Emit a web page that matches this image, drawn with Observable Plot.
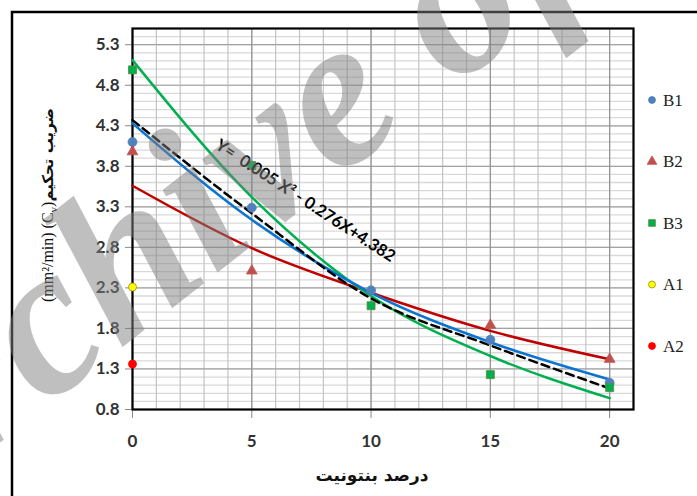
<!DOCTYPE html>
<html><head><meta charset="utf-8">
<script src="https://cdn.jsdelivr.net/npm/d3@7"></script>
<script src="https://cdn.jsdelivr.net/npm/@observablehq/plot@0.6"></script>
<style>body{margin:0;background:#fff;} svg{display:block}</style>
</head><body><div id="chart"></div>
<script>
// ---- data ----
const bentonite = [0, 5, 10, 15, 20];
const B1 = [4.10, 3.29, 2.27, 1.66, 1.13];
const B2 = [3.98, 2.51, NaN, 1.84, 1.42];
const B3 = [4.99, 3.81, 2.08, 1.23, 1.07];
const A1 = [2.31];
const A2 = [1.36];
const A_x = [0];
// trend lines (at the same x positions)
const fitB1 = [4.33, 3.14, 2.24, 1.63, 1.17];
const fitB2 = [3.56, 2.79, 2.24, 1.77, 1.42];
const fitB3 = [5.11, 3.42, 2.20, 1.46, 0.94];
const fitAll = [4.37, 3.22, 2.17, 1.59, 1.06];
const xTicks = [0, 5, 10, 15, 20];
const yTicks = [0.8, 1.3, 1.8, 2.3, 2.8, 3.3, 3.8, 4.3, 4.8, 5.3];
const seriesNames = ["B1", "B2", "B3", "A1", "A2"];
const equationLabel = "Y=\u00a0 0.005 X² - 0.276X+4.382";
const xTitle = "درصد بنتونیت";
const yTitleFa = "ضریب تحکیم";
const yTitleUnit = "(mm²/min) (C";
const watermark = "Archive of SID";

// ---- styles ----
const colors = {B1:"#4F81BD", B2:"#C0504D", B3:"#00B050", A1:"#FFFF00", A2:"#FF0000"};
const strokes = {B1:"#4F81BD", B2:"#C0504D", B3:"#5a8a3a", A1:"#9a9000", A2:"#FF0000"};
const symbols = {B1:"circle", B2:"triangle", B3:"square", A1:"circle", A2:"circle"};
const sizes = {B1:4.5, B2:4, B3:4.5, A1:4, A2:4};

const W = 697, H = 496;
const pts = (ys, xs, name) => xs.map((x, i) => ({x, y: ys[i], name})).filter(d => Number.isFinite(d.y));
const fit = ys => bentonite.map((x, i) => ({x, y: ys[i]}));
const yMinor = d3.range(8, 55).map(d => d / 10);
const xMinor = d3.range(0, 22);

const dotMark = (data, name) => Plot.dot(data, {x:"x", y:"y", symbol: symbols[name], r: sizes[name], fill: colors[name], stroke: strokes[name], strokeWidth: 0.8});

const plot = Plot.plot({
  width: W, height: H,
  marginLeft: 132, marginRight: 64, marginTop: 28, marginBottom: 87,
  style: {background: "white", fontFamily: "Lato, sans-serif", color: "#333"},
  x: {domain: [0, 21]},
  y: {domain: [0.8, 5.5]},
  marks: [
    Plot.ruleY(yMinor, {stroke: "#d9d9d9", strokeWidth: 1.3}),
    Plot.ruleX(xMinor, {stroke: "#c4c4c4", strokeWidth: 1.2}),
    Plot.ruleY(yTicks, {stroke: "#a3a3a3", strokeWidth: 1.2}),
    Plot.ruleX(xTicks, {stroke: "#939393", strokeWidth: 1.2}),
    Plot.axisX({ticks: xTicks, tickSize: 9, tickPadding: 16, fontSize: 17, fontWeight: "bold", label: null, tickFormat: d => String(d), stroke: "#888"}),
    Plot.axisY({ticks: yTicks, tickSize: 7, tickPadding: 6, fontSize: 17, fontWeight: "bold", label: null, tickFormat: d3.format(".1f"), stroke: "#888"}),
    Plot.frame({stroke: "black", strokeWidth: 2.2}),
    Plot.line(fit(fitB2), {x:"x", y:"y", stroke: "#C00000", strokeWidth: 2.5, curve: "monotone-x"}),
    Plot.line(fit(fitB3), {x:"x", y:"y", stroke: "#00B050", strokeWidth: 2.5, curve: "monotone-x"}),
    Plot.line(fit(fitB1), {x:"x", y:"y", stroke: "#0A74D0", strokeWidth: 2.5, curve: "monotone-x"}),
    Plot.line(fit(fitAll), {x:"x", y:"y", stroke: "black", strokeWidth: 2.5, strokeDasharray: "8,5", curve: "monotone-x"}),
    dotMark(pts(B1, bentonite, "B1"), "B1"),
    dotMark(pts(B2, bentonite, "B2"), "B2"),
    dotMark(pts(B3, bentonite, "B3"), "B3"),
    dotMark(pts(A1, A_x, "A1"), "A1"),
    dotMark(pts(A2, A_x, "A2"), "A2"),
    Plot.text([equationLabel], {
      x: (bentonite[1] + bentonite[2]) / 2,
      y: (fitAll[1] + fitAll[2]) / 2,
      text: d => d, rotate: 33, dx: -6, dy: -55,
      fontSize: 16.5, fontWeight: "bold", fill: "black", textAnchor: "middle"
    })
  ]
});

document.getElementById("chart").appendChild(plot);
const svg = d3.select(plot);

// outer chart border
svg.append("rect").attr("x", 12).attr("y", 12).attr("width", W).attr("height", H)
  .attr("fill", "none").attr("stroke", "black").attr("stroke-width", 2.5);

// legend
seriesNames.forEach((n, i) => {
  const cy = 100 + i * 61.5;
  const sym = n === "B2" ? d3.symbolTriangle : n === "B3" ? d3.symbolSquare : d3.symbolCircle;
  svg.append("path").attr("d", d3.symbol(sym, n === "B2" ? 40 : n === "B3" ? 45 : 38)())
    .attr("transform", `translate(652,${cy})`)
    .attr("fill", colors[n]).attr("stroke", strokes[n]).attr("stroke-width", 0.8);
  svg.append("text").attr("x", 663).attr("y", cy).attr("dy", "0.35em").attr("text-anchor", "start")
    .attr("font-family", "Liberation Serif, serif").attr("font-size", 17).attr("fill", "#222")
    .text(n);
});

// y axis title
const yt = svg.append("text").attr("transform", "translate(47,205) rotate(-90)")
  .attr("text-anchor", "middle").attr("dy", "0.35em").attr("font-size", 16).attr("fill", "#111");
yt.append("tspan").attr("font-family", "Liberation Serif, serif").text(yTitleUnit);
yt.append("tspan").attr("font-family", "Liberation Serif, serif").attr("font-size", 11).attr("dy", 4).text("v");
yt.append("tspan").attr("font-family", "Liberation Serif, serif").attr("dy", -4).text(")");
yt.append("tspan").attr("font-family", "DejaVu Sans, sans-serif").attr("font-weight", "bold").attr("font-size", 15).text(yTitleFa);

// x axis title
svg.append("text").attr("x", 372).attr("y", 481).attr("text-anchor", "middle")
  .attr("font-family", "DejaVu Sans, sans-serif").attr("font-weight", "bold").attr("font-size", 17).attr("fill", "#111")
  .text(xTitle);

// watermark
svg.append("text").attr("transform", "translate(-135,548) rotate(-38)").attr("text-anchor", "start")
  .attr("font-family", "Liberation Serif, serif").attr("font-weight", "bold").attr("font-style", "italic")
  .attr("font-size", 215).attr("fill", "#808080").attr("opacity", 0.5)
  .text(watermark);
</script>
</body></html>
